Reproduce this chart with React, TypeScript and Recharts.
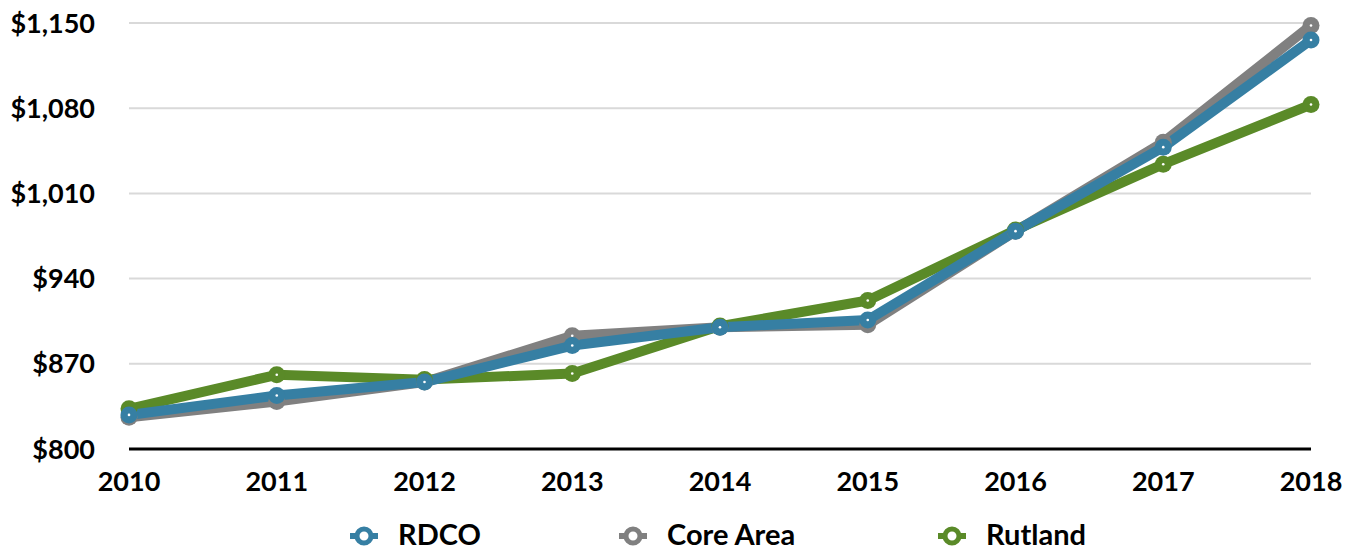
import React from 'react';
import { LineChart, Line, XAxis, YAxis, CartesianGrid, Legend } from 'recharts';

const years = ['2010', '2011', '2012', '2013', '2014', '2015', '2016', '2017', '2018'];
const rdco = [828, 844, 855, 885, 900, 906, 979, 1048, 1136];
const coreArea = [826, 839, 855, 893, 900, 902, 979, 1052, 1148];
const rutland = [833, 861, 857, 862, 901, 922, 980, 1034, 1083];
const yTicks = [800, 870, 940, 1010, 1080, 1150];

const SERIES = [
    { key: 'rdco', name: 'RDCO', color: '#367fa3' },
    { key: 'core', name: 'Core Area', color: '#808080' },
    { key: 'rutland', name: 'Rutland', color: '#5a8a28' },
];

const FONT = 'Lato, "Open Sans", sans-serif';

const chartData = years.map((year, i) => ({
    year,
    rdco: rdco[i],
    core: coreArea[i],
    rutland: rutland[i],
}));

// marker: solid disc with a tiny white centre, like the original
const makeDot = (color: string) => (props: any) => {
    const { cx, cy, index } = props;
    if (cx == null || cy == null) return null;
    return (
        <g key={`dot-${color}-${index}`}>
            <circle cx={cx} cy={cy} r={8.5} fill={color} />
            <circle cx={cx} cy={cy} r={1.3} fill="#ffffff" />
        </g>
    );
};

const legendLeft = [350, 619, 938];

const LegendContent = () => (
    <div style={{ position: 'relative', width: 1356, height: 49 }}>
        {SERIES.map((s, i) => (
            <div
                key={s.key}
                style={{
                    position: 'absolute',
                    left: legendLeft[i],
                    top: 16,
                    height: 30,
                    lineHeight: '30px',
                    display: 'flex',
                    alignItems: 'center',
                    fontFamily: FONT,
                    fontWeight: 700,
                    fontSize: 29,
                    color: '#000',
                    whiteSpace: 'nowrap',
                }}
            >
                <svg width={28} height={22} style={{ marginRight: 20, marginTop: 4 }}>
                    <line x1={0} y1={11} x2={28} y2={11} stroke={s.color} strokeWidth={6} />
                    <circle cx={14} cy={11} r={7} fill="#fff" stroke={s.color} strokeWidth={5} />
                </svg>
                <span>{s.name}</span>
            </div>
        ))}
    </div>
);

export default function App() {
    return (
        <div style={{ position: 'absolute', left: 0, top: 0, width: 1356, height: 552, background: '#fff' }}>
            <LineChart width={1356} height={552} data={chartData} margin={{ top: 23, right: 45, left: 0, bottom: 0 }}>
                <CartesianGrid vertical={false} stroke="#d9d9d9" strokeWidth={2} />
                <XAxis
                    dataKey="year"
                    height={54}
                    padding={{ left: 0, right: 0 }}
                    tickLine={false}
                    axisLine={{ stroke: '#000', strokeWidth: 3 }}
                    tickMargin={17}
                    tick={{ fill: '#000', fontSize: 27, fontWeight: 700, fontFamily: FONT }}
                    interval={0}
                />
                <YAxis
                    width={129}
                    domain={[800, 1150]}
                    ticks={yTicks}
                    axisLine={false}
                    tickLine={false}
                    tickMargin={28}
                    tickFormatter={(v: number) => `$${v.toLocaleString('en-US')}`}
                    tick={{ fill: '#000', fontSize: 27, fontWeight: 700, fontFamily: FONT }}
                />
                <Legend verticalAlign="bottom" height={49} content={<LegendContent />} />
                <Line
                    dataKey="core"
                    name="Core Area"
                    stroke="#808080"
                    strokeWidth={10}
                    strokeLinejoin="round"
                    dot={makeDot('#808080')}
                    activeDot={false}
                    isAnimationActive={false}
                />
                <Line
                    dataKey="rutland"
                    name="Rutland"
                    stroke="#5a8a28"
                    strokeWidth={10}
                    strokeLinejoin="round"
                    dot={makeDot('#5a8a28')}
                    activeDot={false}
                    isAnimationActive={false}
                />
                <Line
                    dataKey="rdco"
                    name="RDCO"
                    stroke="#367fa3"
                    strokeWidth={10}
                    strokeLinejoin="round"
                    dot={makeDot('#367fa3')}
                    activeDot={false}
                    isAnimationActive={false}
                />
            </LineChart>
        </div>
    );
}
